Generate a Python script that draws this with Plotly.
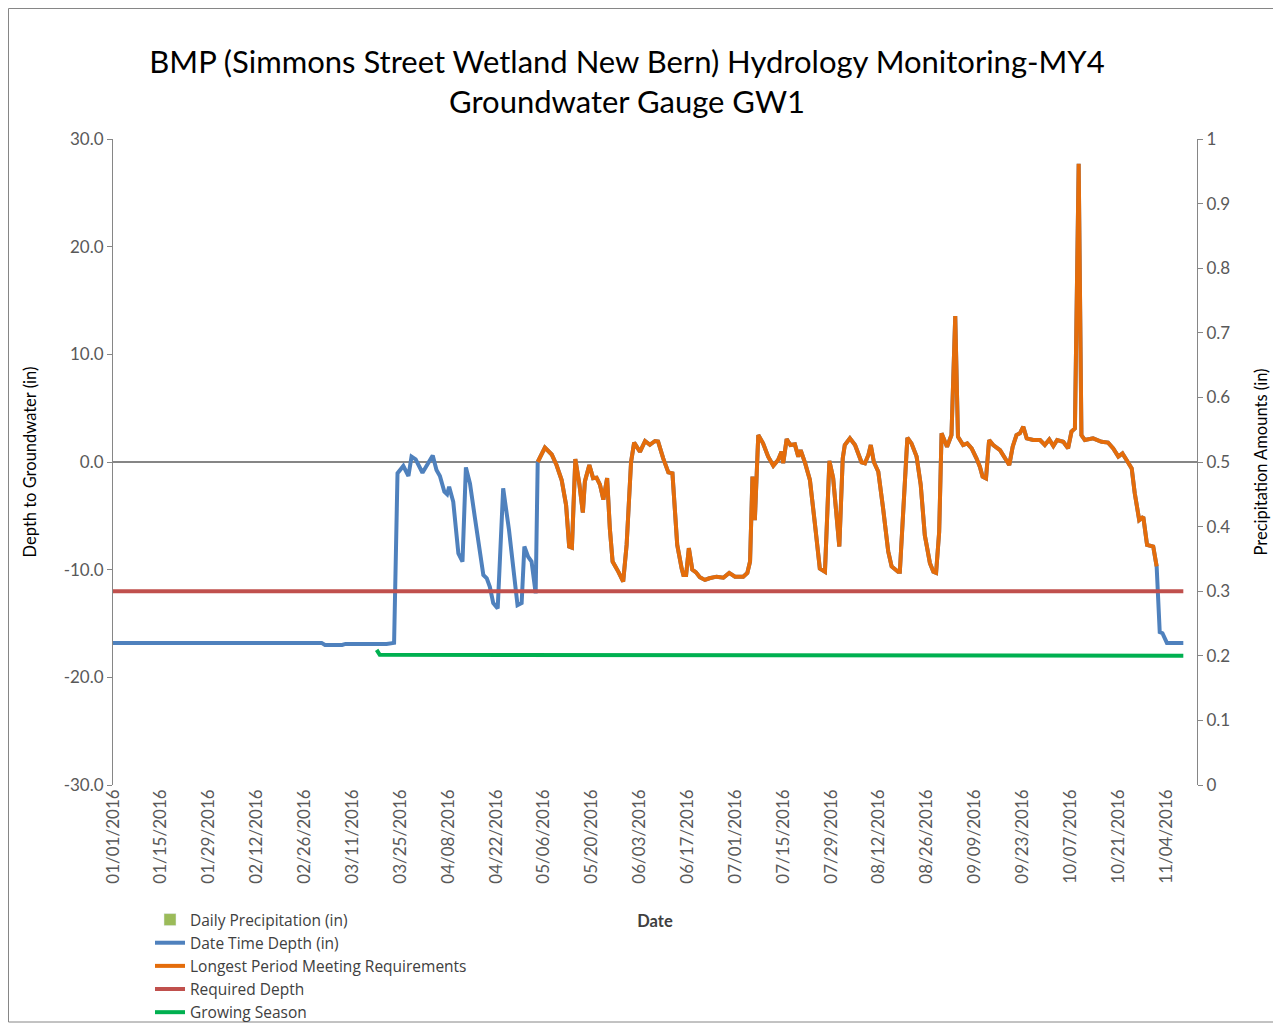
import pandas as pd
import plotly.graph_objects as go

# ---------------- data (days since 01/01/2016, values in inches) ----------------
START = pd.Timestamp("2016-01-01")

depth_day = [
    0, 61, 62, 67, 68, 80, 82.2,
    83.2, 84.9, 86.4, 87.3, 88.5, 90.5, 91.7, 93.5, 94.6, 95.6, 96.9, 97.7, 98.3, 99.5,
    101, 102.2, 103.2, 104.4, 105.8, 108.3, 109.3, 110.2, 111.2, 112.5, 114.1, 115.8,
    118.3, 119.5, 120.3, 121.4, 122.4, 123.6,
    124.2, 126.3, 128.3, 129.7, 131.2, 132.5, 133.4, 134.2, 135.2, 136.4, 137.4, 138,
    139.3, 140.4, 141.4, 142.4, 143.4, 144.5, 145.3, 146.1, 147.8, 149.2, 150.2, 151.5,
    152.4, 154.1, 155.6, 157, 158.5, 159.4, 160.9, 162.4, 163.6, 165, 166.3, 166.8,
    167.6, 168.4, 169.4, 170.5, 171.6, 173.1, 174.4, 176.5, 178.5, 180.2, 181.9, 184.3,
    185.5, 186.3, 187, 187.7, 188.7, 190.1, 191.6, 193.1, 194.5, 195.5, 196, 197,
    198.1, 199.4, 200.4, 201.1, 202.4, 203.8, 205.3, 206.7, 208.2, 209.5, 210.6, 212.4,
    213.4, 214, 215.5, 217, 218.9, 219.9, 220.9, 221.6, 222.5, 223.8, 225.2, 226.7,
    227.7, 229.6, 230.1, 231.3, 232.3, 233.5, 235, 236.2, 237.4, 238.9, 239.9, 240.7,
    241.6, 242.3, 243.9, 245.2, 246.3, 247.1, 248.6, 249.8, 251.1, 252.5, 253.5, 254.3,
    255.3, 256.2, 257.4, 259.4, 260.8, 262.1, 263.1, 264.2, 265.2, 266.2, 267.2, 269.1,
    271.1, 272.5, 273.8, 275, 276.1, 277.9, 279.3, 280.3, 281.3, 282.4, 283.2, 284.2,
    286.6, 289.1, 291, 292.5, 294, 295.2, 296.4, 297.9, 298.8, 300.1, 301.3, 302.4,
    304.2, 305.2,
    306.1, 306.9, 308.2, 313,
]
depth_in = [
    -16.8, -16.8, -17.0, -17.0, -16.9, -16.9, -16.8,
    -1.05, -0.37, -1.3, 0.5, 0.25, -1.0, -0.37, 0.6, -0.74, -1.3, -2.76, -3.0, -2.3, -3.7,
    -8.5, -9.25, -0.5, -2.0, -5.1, -10.5, -10.8, -11.6, -13.1, -13.6, -2.45, -6.3,
    -13.3, -13.1, -7.85, -8.8, -9.25, -12.2,
    0.0, 1.33, 0.7, -0.28, -1.67, -4.0, -7.85, -7.95, 0.28, -2.1, -4.7, -1.8,
    -0.28, -1.5, -1.45, -2.1, -3.5, -1.5, -6.2, -9.25, -10.2, -11.1, -7.7, 0.0,
    1.8, 0.95, 1.95, 1.6, 1.95, 1.9, 0.34, -0.96, -1.05, -7.7, -9.9, -10.5,
    -10.5, -8.0, -10.0, -10.25, -10.7, -10.95, -10.8, -10.65, -10.75, -10.3, -10.65, -10.65,
    -10.3, -9.25, -1.36, -5.4, 2.5, 1.73, 0.5, -0.34, 0.18, 0.96, -0.12, 2.14,
    1.58, 1.64, 0.5, 1.1, -0.1, -1.67, -5.85, -9.9, -10.2, 0.1, -1.5, -7.85,
    0.34, 1.58, 2.2, 1.58, -0.03, -0.12, 0.65, 1.58, 0.0, -0.9, -4.3, -8.3,
    -9.7, -10.2, -10.2, -3.4, 2.25, 1.73, 0.5, -2.1, -6.8, -9.4, -10.2, -10.3,
    -6.5, 2.66, 1.42, 2.5, 13.55, 2.35, 1.58, 1.73, 1.27, 0.34, -0.43, -1.36,
    -1.52, 2.04, 1.58, 1.1, 0.34, -0.28, 1.42, 2.5, 2.66, 3.28, 2.2, 2.04,
    2.04, 1.58, 2.1, 1.48, 2.04, 1.88, 1.27, 2.82, 3.12, 27.7, 2.5, 2.04,
    2.2, 1.88, 1.8, 1.27, 0.5, 0.8, 0.18, -0.59, -2.9, -5.4, -5.1, -7.7,
    -7.85, -9.7,
    -15.8, -15.9, -16.8, -16.8,
]

# longest period meeting requirements (window on the depth record)
longest_start_day = 124.2
longest_end_day = 305.2

required_day = [0, 313]
required_depth = [-12.0, -12.0]

growing_day = [77.1, 78, 313]
growing_val = [-17.45, -17.9, -18.0]

precip_day = [0]
precip_in = [0.0]

depth_ticks = [-30, -20, -10, 0, 10, 20, 30]
depth_tick_text = ["-30.0", "-20.0", "-10.0", "0.0", "10.0", "20.0", "30.0"]

# ---------------- helpers ----------------
def to_dates(days):
    return [START + pd.Timedelta(days=d) for d in days]

orange_day = [d for d in depth_day if longest_start_day <= d <= longest_end_day]
orange_val = [v for d, v in zip(depth_day, depth_in) if longest_start_day <= d <= longest_end_day]

FONT = "Lato"
LEG_FONT = "Open Sans"
GRAY_TXT = "#595959"
AX = "#868686"
LW = 4

fig = go.Figure()
fig.add_trace(go.Bar(x=to_dates(precip_day), y=precip_in, name="Daily Precipitation (in)",
                     marker_color="#9BBB59", yaxis="y2"))
fig.add_trace(go.Scatter(x=to_dates(depth_day), y=depth_in, mode="lines",
                         name="Date Time Depth (in)", line=dict(color="#4F81BD", width=LW)))
fig.add_trace(go.Scatter(x=to_dates(orange_day), y=orange_val, mode="lines",
                         name="Longest Period Meeting Requirements",
                         line=dict(color="#E46C0A", width=LW)))
fig.add_trace(go.Scatter(x=to_dates(required_day), y=required_depth, mode="lines",
                         name="Required Depth", line=dict(color="#C0504D", width=LW)))
fig.add_trace(go.Scatter(x=to_dates(growing_day), y=growing_val, mode="lines",
                         name="Growing Season", line=dict(color="#00B050", width=LW)))

# page body adds an 8px offset; work in figure coordinates
OFF = 8
W, H = 1273, 1016
L, T = 113 - OFF, 139 - OFF
pw, ph = 1084, 646
R = W - L - pw
B = H - T - ph

def px(x_screen):
    return (x_screen - OFF - L) / pw

def py(y_screen):
    return (T + ph - (y_screen - OFF)) / ph

fig.update_layout(
    width=W, height=H,
    margin=dict(l=L, r=R, t=T, b=B, autoexpand=False),
    paper_bgcolor="white", plot_bgcolor="white",
    font=dict(family=FONT, color=GRAY_TXT, size=16),
    title=dict(text="BMP (Simmons Street Wetland New Bern) Hydrology Monitoring-MY4<br>Groundwater Gauge GW1",
               x=(627 - OFF) / W, xanchor="center", y=1 - 65 / H, yanchor="top",
               font=dict(family=FONT, size=31, color="#000000")),
    showlegend=True,
    legend=dict(x=px(150), y=py(903), xanchor="left", yanchor="top",
                font=dict(family=LEG_FONT, size=15.5, color="#404040"),
                bgcolor="rgba(0,0,0,0)", tracegroupgap=0),
    xaxis=dict(
        type="date",
        range=[START, START + pd.Timedelta(days=317)],
        tick0=START, dtick=14 * 86400000, tickformat="%m/%d/%Y", tickangle=-90,
        showgrid=False, zeroline=False, showline=False, ticks="",
        tickfont=dict(family=FONT, size=17, color=GRAY_TXT),
        title=dict(text="<b>Date</b>", standoff=32, font=dict(family=FONT, size=16.5, color="#404040")),
    ),
    yaxis=dict(
        range=[-30, 30], tickmode="array", tickvals=depth_ticks, ticktext=depth_tick_text,
        showgrid=False, zeroline=True, zerolinecolor=AX, zerolinewidth=1.5,
        showline=True, linecolor=AX, linewidth=1, ticks="outside", ticklen=5, tickcolor=AX,
        tickfont=dict(family=FONT, size=17, color=GRAY_TXT),
        title=dict(text="Depth to Groundwater (in)", standoff=22,
                   font=dict(family=FONT, size=16.5, color="#000000")),
    ),
    yaxis2=dict(
        range=[0, 1], dtick=0.1, overlaying="y", side="right",
        showgrid=False, zeroline=False,
        showline=True, linecolor=AX, linewidth=1, ticks="outside", ticklen=5, tickcolor=AX,
        tickfont=dict(family=FONT, size=17, color=GRAY_TXT),
        title=dict(text="Precipitation Amounts (in)", standoff=26,
                   font=dict(family=FONT, size=16.5, color="#000000")),
    ),
    shapes=[dict(type="rect", xref="paper", yref="paper",
                 x0=px(8.5), x1=px(1276), y0=py(1022), y1=py(8.5),
                 line=dict(color=AX, width=1), fillcolor="rgba(0,0,0,0)", layer="below")],
)

fig.write_html("out.html")
